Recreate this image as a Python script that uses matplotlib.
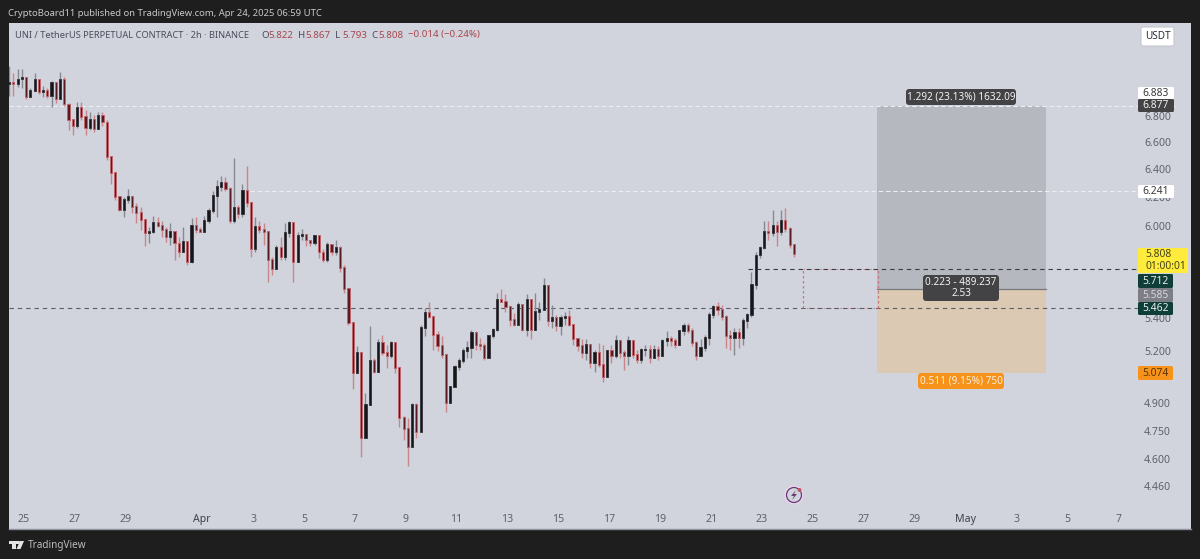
import matplotlib
matplotlib.use('Agg')
from matplotlib import pyplot as plt
from matplotlib.patches import Rectangle, FancyBboxPatch, Circle, Polygon
from matplotlib.transforms import Affine2D
import matplotlib.dates as mdates
import pandas as pd

plt.rcParams['font.family'] = ['Noto Sans', 'DejaVu Sans']

closes = [
    7.06, 7.05, 7.09, 7.10, 6.95, 7.00, 7.09, 6.99, 7.00, 6.96,
    7.06, 6.93, 7.09, 6.89, 6.77, 6.72, 6.86, 6.79, 6.71, 6.77,
    6.70, 6.80, 6.75, 6.49, 6.37, 6.20, 6.11, 6.18, 6.20, 6.13,
    6.09, 6.04, 5.95, 5.96, 6.02, 6.00, 5.97, 5.92, 5.96, 5.88,
    5.82, 5.89, 5.76, 6.00, 5.97, 5.96, 6.03, 6.10, 6.21, 6.27,
    6.30, 6.26, 6.03, 6.12, 6.08, 6.24, 6.16, 5.84, 5.99, 5.97,
    5.96, 5.77, 5.71, 5.85, 5.79, 5.95, 6.02, 5.76, 5.93,
    5.94, 5.90, 5.88, 5.93, 5.82, 5.77, 5.87, 5.82, 5.85, 5.72,
    5.58, 5.37, 5.07, 5.19, 4.71, 4.89, 5.14, 5.08, 5.25, 5.19,
    5.17, 5.25, 5.10, 4.82, 4.76, 4.66, 4.89, 4.74, 5.34, 5.43,
    5.41, 5.30, 5.23, 5.18, 4.90, 4.99, 5.11, 5.14, 5.20, 5.22,
    5.31, 5.24, 5.23, 5.16, 5.29, 5.33, 5.51, 5.50, 5.47, 5.39,
    5.36, 5.48, 5.33, 5.51, 5.33, 5.44, 5.45, 5.60, 5.38, 5.40,
    5.35, 5.40, 5.41,
    5.36, 5.27, 5.23, 5.19, 5.24, 5.13, 5.19, 5.12, 5.05, 5.20,
    5.17, 5.26, 5.19, 5.17, 5.26, 5.18, 5.15, 5.21, 5.21, 5.16,
    5.21, 5.17, 5.26, 5.27, 5.26, 5.24, 5.32, 5.35, 5.32, 5.25,
    5.17, 5.22, 5.28, 5.42, 5.47, 5.45, 5.41, 5.29, 5.28, 5.31,
    5.28, 5.38, 5.42, 5.61, 5.80, 5.85, 5.96, 5.95, 6.00, 5.96,
    6.03, 5.98, 5.87, 5.808,
]
highs = [
    7.20, 7.14, 7.17, 7.17, 7.09, 7.02, 7.14, 7.06, 7.04, 7.02,
    7.08, 7.06, 7.15, 7.11, 6.90, 6.78, 6.91, 6.91, 6.85, 6.83,
    6.81, 6.83, 6.83, 6.77, 6.50, 6.37, 6.21, 6.20, 6.26, 6.21,
    6.16, 6.13, 6.04, 5.99, 6.07, 6.06, 6.03, 5.99, 6.02, 5.95,
    5.92, 5.99, 5.89, 6.05, 6.06, 5.99, 6.07, 6.12, 6.24, 6.32,
    6.35, 6.34, 6.27, 6.48, 6.14, 6.29, 6.42, 6.12, 6.06, 6.03,
    6.02, 5.87, 5.79, 5.87, 5.92, 6.02, 6.03, 6.02, 5.96,
    5.98, 5.94, 5.90, 5.94, 5.93, 5.84, 5.89, 5.86, 5.90, 5.86,
    5.74, 5.59, 5.37, 5.23, 5.07, 4.96, 5.35, 5.16, 5.27, 5.30,
    5.24, 5.26, 5.25, 5.10, 4.83, 4.82, 4.90, 4.90, 5.36, 5.46,
    5.50, 5.41, 5.32, 5.29, 5.15, 5.00, 5.12, 5.16, 5.22, 5.26,
    5.33, 5.32, 5.28, 5.25, 5.30, 5.34, 5.56, 5.58, 5.55, 5.47,
    5.43, 5.50, 5.45, 5.55, 5.46, 5.56, 5.50, 5.65, 5.61, 5.48,
    5.42, 5.42, 5.44,
    5.45, 5.36, 5.28, 5.27, 5.27, 5.24, 5.21, 5.25, 5.24, 5.21,
    5.24, 5.30, 5.24, 5.21, 5.29, 5.21, 5.21, 5.22, 5.24, 5.24,
    5.24, 5.23, 5.27, 5.32, 5.29, 5.28, 5.33, 5.37, 5.37, 5.34,
    5.26, 5.27, 5.30, 5.44, 5.48, 5.50, 5.48, 5.42, 5.33, 5.34,
    5.34, 5.40, 5.43, 5.69, 5.82, 5.86, 6.03, 6.03, 6.11, 6.03,
    6.11, 6.12, 5.99, 5.867,
]
lows = [
    6.96, 6.96, 7.03, 7.02, 6.93, 6.95, 7.00, 6.97, 6.95, 6.94,
    6.87, 6.90, 6.96, 6.88, 6.69, 6.65, 6.71, 6.77, 6.65, 6.69,
    6.68, 6.72, 6.72, 6.47, 6.29, 6.18, 6.10, 6.06, 6.16, 6.09,
    6.02, 5.97, 5.86, 5.88, 5.95, 5.99, 5.92, 5.89, 5.87, 5.77,
    5.79, 5.82, 5.74, 5.75, 5.95, 5.96, 5.96, 6.02, 6.09, 6.06,
    6.24, 6.24, 6.02, 6.02, 6.05, 6.06, 6.13, 5.79, 5.82, 5.95,
    5.87, 5.63, 5.67, 5.71, 5.77, 5.77, 5.92, 5.63, 5.84,
    5.90, 5.86, 5.86, 5.87, 5.78, 5.76, 5.76, 5.80, 5.80, 5.69,
    5.56, 5.36, 4.98, 5.07, 4.61, 4.88, 4.89, 5.07, 5.09, 5.18,
    5.10, 5.16, 5.07, 4.77, 4.70, 4.56, 4.66, 4.71, 4.86, 5.29,
    5.40, 5.21, 5.20, 5.16, 4.85, 4.90, 4.99, 5.09, 5.13, 5.16,
    5.16, 5.21, 5.21, 5.15, 5.16, 5.28, 5.32, 5.50, 5.44, 5.35,
    5.35, 5.36, 5.32, 5.29, 5.27, 5.33, 5.39, 5.45, 5.35, 5.34,
    5.32, 5.30, 5.36,
    5.35, 5.24, 5.20, 5.16, 5.15, 5.10, 5.08, 5.11, 5.02, 5.13,
    5.13, 5.16, 5.16, 5.09, 5.12, 5.16, 5.13, 5.13, 5.17, 5.13,
    5.16, 5.15, 5.23, 5.23, 5.23, 5.22, 5.24, 5.30, 5.31, 5.23,
    5.15, 5.18, 5.20, 5.24, 5.40, 5.42, 5.39, 5.22, 5.21, 5.18,
    5.22, 5.24, 5.34, 5.41, 5.58, 5.78, 5.84, 5.90, 5.93, 5.86,
    5.94, 5.96, 5.85, 5.793,
]
first_open = 7.05
last_time = '2025-04-24 06:00'

price_ticks = [4.46, 4.6, 4.75, 4.9, 5.2, 5.4, 6.0, 6.2, 6.4, 6.6, 6.8]
date_ticks = ['2025-03-25', '2025-03-27', '2025-03-29', '2025-04-01', '2025-04-03',
              '2025-04-05', '2025-04-07', '2025-04-09', '2025-04-11', '2025-04-13',
              '2025-04-15', '2025-04-17', '2025-04-19', '2025-04-21', '2025-04-23',
              '2025-04-25', '2025-04-27', '2025-04-29', '2025-05-01', '2025-05-03',
              '2025-05-05', '2025-05-07']
date_labels = ['25', '27', '29', 'Apr', '3', '5', '7', '9', '11', '13', '15', '17',
               '19', '21', '23', '25', '27', '29', 'May', '3', '5', '7']

target = 6.877
entry = 5.585
stop = 5.074
resistance = 6.241
level_high = 5.712
level_low = 5.462

PANEL = '#d1d4dc'
DARK = '#1e1e1e'
TEXT = '#4a4e5c'
RED = '#a8464e'
BADGE = '#434346'
GREEN = '#0f3d38'
ORANGE = '#f7931a'

fig = plt.figure(figsize=(12, 5.59), dpi=100, facecolor=DARK)
px = Affine2D().scale(1 / 1200, -1 / 559).translate(0, 1) + fig.transFigure
ax = fig.add_axes([9 / 1200, 1 - 529 / 559, 1182 / 1200, 506 / 559], facecolor=PANEL)
ax.set_yscale('log')

times = mdates.date2num(pd.date_range(end=last_time, periods=len(closes), freq='4h'))
opens = [first_open] + closes[:-1]
up = [c >= o for o, c in zip(opens, closes)]
wick_col = ['#858990' if u else '#c9868b' for u in up]
body_col = ['#15151a' if u else '#5a1a20' for u in up]
edge_col = ['#3a3a40' if u else '#bd656c' for u in up]
bottoms = [min(o, c) for o, c in zip(opens, closes)]
heights = [abs(o - c) + 0.006 for o, c in zip(opens, closes)]

ax.vlines(times, lows, highs, colors=wick_col, linewidth=1.0, zorder=3)
ax.bar(times, heights, bottom=bottoms, width=0.085, color=body_col, edgecolor=edge_col,
       linewidth=0.7, zorder=3.2)

# position tool
pos_left = mdates.date2num(pd.Timestamp('2025-04-27 12:00'))
pos_right = mdates.date2num(pd.Timestamp('2025-05-04 04:00'))
ax.add_patch(Rectangle((pos_left, entry), pos_right - pos_left, target - entry,
                       facecolor='#b5b8bf', edgecolor='none', zorder=1))
ax.add_patch(Rectangle((pos_left, stop), pos_right - pos_left, entry - stop,
                       facecolor='#dcc9b3', edgecolor='none', zorder=1))
ax.plot([pos_left, pos_right], [entry, entry], color='#77777c', lw=0.9, zorder=2)

# horizontal levels
line_end = mdates.date2num(pd.Timestamp('2025-05-09 05:00'))
start = mdates.date2num(pd.Timestamp('2025-03-24 10:00'))
ax.plot([start, line_end], [target, target], color='#eceef2', lw=0.8, ls=(0, (4, 2.5)), zorder=2)
ax.plot([mdates.date2num(pd.Timestamp('2025-04-02 21:00')), line_end], [resistance, resistance],
        color='#eceef2', lw=0.8, ls=(0, (4, 2.5)), zorder=2)
ax.plot([mdates.date2num(pd.Timestamp('2025-04-22 11:00')), line_end], [level_high, level_high],
        color='#3a3d44', lw=0.8, ls=(0, (4, 3.5)), zorder=2.5)
ax.plot([start, line_end], [level_low, level_low],
        color='#5a5d65', lw=0.8, ls=(0, (4, 3.5)), zorder=2.5)

# red dotted box between the two levels
box_left = mdates.date2num(pd.Timestamp('2025-04-24 15:00'))
box_right = mdates.date2num(pd.Timestamp('2025-04-27 13:00'))
for xv in [box_left, box_right]:
    ax.plot([xv, xv], [level_low, level_high], color='#c9767d', lw=0.9, ls=(0, (2, 2)), zorder=2.6)
for yv in [level_low, level_high]:
    ax.plot([box_left, box_right], [yv, yv], color='#c9767d', lw=0.6, ls=(0, (2, 2)), zorder=2.4)

ax.set_ylim(4.246, 7.56)
ax.set_xlim(mdates.date2num(pd.Timestamp('2025-03-25')) - 15 / 25.45,
            mdates.date2num(pd.Timestamp('2025-03-25')) + 1167 / 25.45)

ax.yaxis.tick_right()
ax.set_yticks(price_ticks)
ax.set_yticklabels(['%.3f' % p for p in price_ticks])
ax.minorticks_off()
ax.set_xticks(mdates.date2num(pd.to_datetime(date_ticks)))
ax.set_xticklabels(date_labels)
ax.tick_params(axis='y', length=0, pad=-33.8, labelsize=7.6, labelcolor='#5d616c')
ax.tick_params(axis='x', length=0, pad=-11, labelsize=7.6, labelcolor='#5d616c')
for lab in ax.get_xticklabels():
    if lab.get_text() in ('Apr', 'May'):
        lab.set_fontweight('bold')
        lab.set_color('#3d404a')
for name, sp in ax.spines.items():
    sp.set_visible(name == 'bottom')
ax.spines['bottom'].set_color('#8f929a')
ax.spines['bottom'].set_linewidth(1.0)


def badge(x0, y0, x1, y1, color, text, tcolor, size=7.4, round_px=1.5, left=None):
    ax.add_patch(FancyBboxPatch((x0, y0), x1 - x0, y1 - y0, transform=px, clip_on=False,
                                boxstyle='round,pad=0,rounding_size=%s' % round_px,
                                facecolor=color, edgecolor='none', zorder=6))
    tx = (x0 + x1) / 2 if left is None else left
    ax.text(tx, (y0 + y1) / 2, text, transform=px, color=tcolor, fontsize=size,
            ha='center' if left is None else 'left', va='center', zorder=7,
            linespacing=1.1, clip_on=False)


# boxes on the drawing
badge(906, 89, 1016, 105, BADGE, '1.292 (23.13%) 1632.09', '#f2f2f2', size=7.2, round_px=3)
badge(923, 275, 999, 301, BADGE, '0.223 - 489.237\n2.53', '#f2f2f2', size=7.2, round_px=3)
badge(918, 373, 1004, 389, ORANGE, '0.511 (9.15%) 750', '#fbeedd', size=7.2, round_px=3)

# price scale labels
badge(1138, 87, 1174, 99, '#ffffff', '6.883', '#3a3a3a')
badge(1138, 99, 1174, 112, BADGE, '6.877', '#f0f0f0')
badge(1138, 185, 1174, 198, '#ffffff', '6.241', '#3a3a3a')
badge(1138, 248, 1188, 273, '#ffeb3b', '5.808\n01:00:01', '#45441a', round_px=1, left=1145)
badge(1138, 274, 1173, 288, GREEN, '5.712', '#e6f0ee')
badge(1138, 288, 1173, 302, '#7d7e86', '5.585', '#d7d8dc')
badge(1138, 302, 1173, 315, GREEN, '5.462', '#e6f0ee')
badge(1138, 366, 1173, 380, ORANGE, '5.074', '#5a3205')

# USDT button
ax.add_patch(FancyBboxPatch((1141, 27), 33, 19, transform=px, clip_on=False,
                            boxstyle='round,pad=0,rounding_size=2', facecolor='#ffffff',
                            edgecolor='#c4c6cc', linewidth=0.8, zorder=6))
ax.text(1157.5, 36.5, 'USDT', transform=px, color='#2a2e39', fontsize=7.2, ha='center',
        va='center', fontweight='medium', zorder=7)

# header
fig.text(8, 13, 'CryptoBoard11 published on TradingView.com, Apr 24, 2025 06:59 UTC',
         transform=px, color='#c9c9c9', fontsize=6.8, ha='left', va='center')
ax.text(15, 35, 'UNI / TetherUS PERPETUAL CONTRACT · 2h · BINANCE', transform=px, color=TEXT,
        fontsize=6.7, ha='left', va='center', zorder=7)
header = [(261, 'O', TEXT), (268, '5.822', RED), (298, 'H', TEXT), (305, '5.867', RED),
          (335, 'L', TEXT), (342, '5.793', RED), (371, 'C', TEXT), (378, '5.808', RED),
          (408, '−0.014 (−0.24%)', RED)]
for hx, word, col in header:
    ax.text(hx, 35, word, transform=px, color=col, fontsize=7.0, ha='left', va='center', zorder=7)

# bolt icon
ax.add_patch(Circle((794, 495), 9.5, transform=px, facecolor='#ead6ee', edgecolor='none', zorder=6))
ax.add_patch(Circle((794, 495), 7.5, transform=px, facecolor=PANEL, edgecolor='#6b3a78',
                    linewidth=0.9, zorder=6.1))
ax.add_patch(Polygon([(796, 490), (791, 496), (794, 496), (792, 500), (797, 494), (794, 494)],
                     closed=True, transform=px, facecolor='#6b3a78', edgecolor='none', zorder=6.2))
ax.add_patch(Circle((799.5, 490), 2, transform=px, facecolor='#c0556a', edgecolor='none', zorder=6.3))

# footer logo
ax.add_patch(Rectangle((9, 541), 9, 3, transform=px, clip_on=False, facecolor='#e4e4e4', zorder=6))
ax.add_patch(Rectangle((12, 541), 3.5, 8, transform=px, clip_on=False, facecolor='#e4e4e4', zorder=6))
ax.add_patch(Circle((18.5, 542.5), 1.6, transform=px, clip_on=False, facecolor='#e4e4e4', zorder=6))
ax.add_patch(Polygon([(20, 541), (24, 541), (20.5, 549), (16.5, 549)], closed=True, transform=px,
                     clip_on=False, facecolor='#e4e4e4', zorder=6))
fig.text(28, 545.5, 'TradingView', transform=px, color='#bdbdbd', fontsize=7.2, ha='left', va='center')

plt.savefig('out.png', dpi=100, facecolor=DARK)
